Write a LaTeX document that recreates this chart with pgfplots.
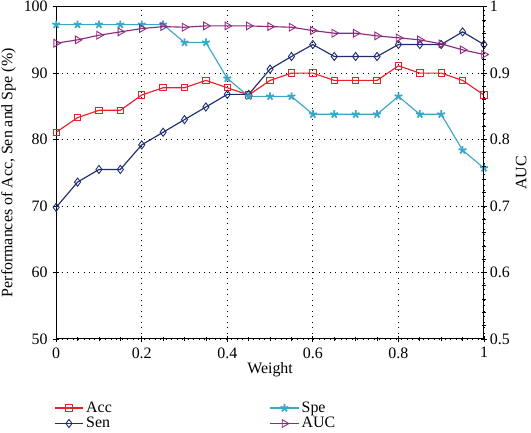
\documentclass[border=0pt]{standalone}
\usepackage{pgfplots}
\pgfplotsset{compat=1.18}
\usepackage{fontspec}
\setmainfont{Liberation Serif}
\definecolor{cacc}{HTML}{E8202A}
\definecolor{csen}{HTML}{1F2D6E}
\definecolor{cspe}{HTML}{3AA7C7}
\definecolor{cauc}{HTML}{8E2A7E}
\begin{document}
\fontsize{12.5}{14}\selectfont
\begin{tikzpicture}
\pgfplotsset{
  every axis/.append style={
    scale only axis, width=336pt, height=261pt,
    xmin=0, xmax=1,
    font=\fontsize{12.5}{14}\selectfont,
    /pgf/number format/assume math mode=true,
    tick align=center,
    major tick length=5pt,
    minor tick length=2.5pt,
    every tick/.style={black, line width=0.6pt},
    axis line style={line width=0.8pt},
    every tick label/.append style={inner sep=1pt},
    every axis label/.append style={inner sep=1pt},
  },
  legend image code/.code={\draw[mark repeat=2,mark phase=2] plot coordinates {(0cm,0cm)(0.39cm,0cm)(0.78cm,0cm)};},
}
\begin{axis}[
  axis y line*=left,
  xtick pos=bottom,
  ymin=50, ymax=100,
  ytick={50,60,...,100},
  xtick={0,0.2,0.4,0.6,0.8,1},
  minor x tick num=3,
  grid=major,
  major grid style={black, line width=0.6pt, dash pattern=on 0.7pt off 3.6pt},
  xlabel={Weight},
  ylabel={Performances of Acc, Sen and Spe (\%)},
  yticklabel style={xshift=-3pt},
  xticklabel style={yshift=-3pt},
  ylabel style={yshift=4pt},
  xlabel style={yshift=-1pt},
  legend columns=2,
  transpose legend,
  legend cell align=left,
  legend style={draw=none, fill=none, at={(rel axis cs:-0.005,-0.18)}, anchor=north west,
    font=\fontsize{12.5}{13}\selectfont, row sep=-2pt, inner sep=0pt,
    /tikz/every even column/.append style={column sep=122pt}},
]
\addplot[cacc, line width=0.9pt, mark=square, mark size=2.5pt, mark options={fill=white, line width=0.7pt}] coordinates {
(0,81.1)(0.05,83.3)(0.1,84.4)(0.15,84.4)(0.2,86.7)(0.25,87.8)(0.3,87.8)(0.35,88.9)(0.4,87.8)(0.45,86.7)
(0.5,88.9)(0.55,90.0)(0.6,90.0)(0.65,88.9)(0.7,88.9)(0.75,88.9)(0.8,91.1)(0.85,90.0)(0.9,90.0)(0.95,88.9)(1,86.7)};
\addlegendentry{Acc}
\addplot[csen, line width=0.9pt, mark=diamond, mark size=3.2pt, mark options={fill=white, line width=0.7pt}] coordinates {
(0,69.8)(0.05,73.6)(0.1,75.5)(0.15,75.5)(0.2,79.2)(0.25,81.1)(0.3,83.0)(0.35,84.9)(0.4,86.8)(0.45,86.8)
(0.5,90.6)(0.55,92.5)(0.6,94.3)(0.65,92.5)(0.7,92.5)(0.75,92.5)(0.8,94.3)(0.85,94.3)(0.9,94.3)(0.95,96.2)(1,94.3)};
\addlegendentry{Sen}
\addplot[cspe, line width=0.9pt, mark=star, mark size=3.2pt, mark options={line width=1.4pt}] coordinates {
(0,97.3)(0.05,97.3)(0.1,97.3)(0.15,97.3)(0.2,97.3)(0.25,97.3)(0.3,94.6)(0.35,94.6)(0.4,89.2)(0.45,86.5)
(0.5,86.5)(0.55,86.5)(0.6,83.8)(0.65,83.8)(0.7,83.8)(0.75,83.8)(0.8,86.5)(0.85,83.8)(0.9,83.8)(0.95,78.4)(1,75.7)};
\addlegendentry{Spe}
\addlegendimage{cauc, line width=0.9pt, mark=triangle, mark size=3.5pt, mark options={rotate=-90, fill=white, line width=0.7pt}}
\addlegendentry{AUC}
\end{axis}
\begin{axis}[
  axis y line*=right,
  axis x line=none,
  ymin=0.5, ymax=1,
  ytick={0.5,0.6,...,1.0},
  minor y tick num=4,
  ylabel={AUC},
  ylabel style={inner sep=3.5pt},
  yticklabel style={xshift=1pt, /pgf/number format/fixed, /pgf/number format/precision=1},
]
\addplot[cauc, line width=0.9pt, mark=triangle, mark size=3.5pt, mark options={rotate=-90, fill=white, line width=0.7pt}] coordinates {
(0,0.945)(0.05,0.950)(0.1,0.957)(0.15,0.962)(0.2,0.967)(0.25,0.970)(0.3,0.969)(0.35,0.971)(0.4,0.971)(0.45,0.971)
(0.5,0.970)(0.55,0.969)(0.6,0.964)(0.65,0.960)(0.7,0.960)(0.75,0.956)(0.8,0.953)(0.85,0.950)(0.9,0.944)(0.95,0.935)(1,0.928)};
\end{axis}
\end{tikzpicture}
\end{document}
